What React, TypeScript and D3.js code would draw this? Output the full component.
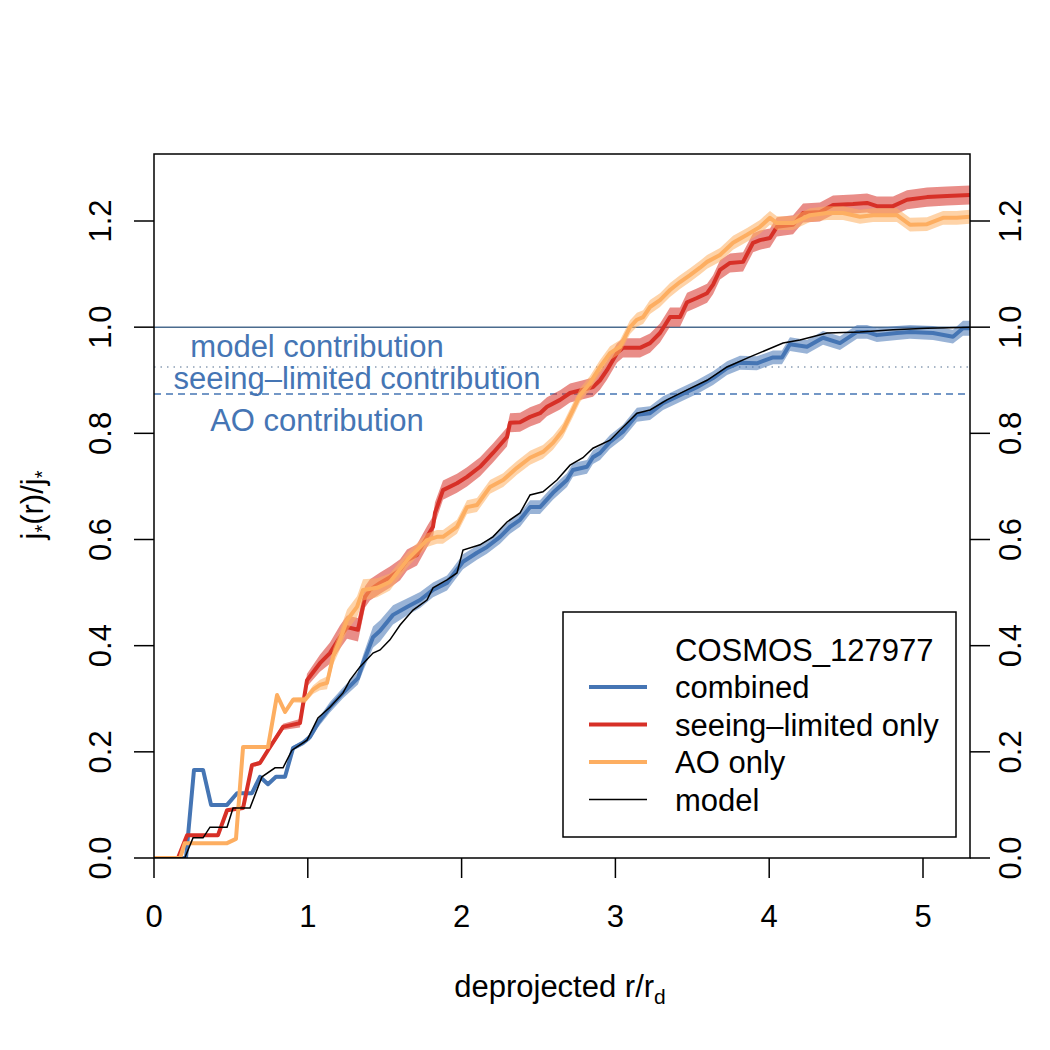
import React from "react";
import * as d3 from "d3";

type P = [number, number, number];

const X_TICKS = [0, 1, 2, 3, 4, 5];
const Y_TICKS = [0, 0.2, 0.4, 0.6, 0.8, 1.0, 1.2];
const Y_TICK_LABELS = ["0.0", "0.2", "0.4", "0.6", "0.8", "1.0", "1.2"];

const LEVEL_TOTAL = 1.0;
const LEVEL_MODEL = 0.925;
const LEVEL_AO = 0.874;

const combined: P[] = [
  [0, 0, 0], [0.208, 0, 0.001], [0.26, 0.166, 0.002], [0.319, 0.166, 0.002], [0.371, 0.1, 0.002],
  [0.475, 0.1, 0.002], [0.54, 0.122, 0.002], [0.637, 0.122, 0.002], [0.689, 0.153, 0.003],
  [0.741, 0.139, 0.003], [0.793, 0.153, 0.003], [0.852, 0.153, 0.003], [0.904, 0.207, 0.004],
  [0.969, 0.217, 0.005], [1.014, 0.228, 0.006], [1.066, 0.254, 0.008], [1.144, 0.284, 0.01],
  [1.229, 0.311, 0.01], [1.326, 0.339, 0.012], [1.359, 0.367, 0.015], [1.424, 0.416, 0.02],
  [1.47, 0.428, 0.02], [1.554, 0.458, 0.018], [1.645, 0.473, 0.016], [1.73, 0.486, 0.015],
  [1.814, 0.505, 0.014], [1.905, 0.518, 0.014], [1.944, 0.533, 0.014], [2.009, 0.558, 0.014],
  [2.1, 0.575, 0.013], [2.165, 0.586, 0.013], [2.25, 0.605, 0.013], [2.315, 0.624, 0.013],
  [2.38, 0.637, 0.013], [2.445, 0.661, 0.013], [2.51, 0.661, 0.013], [2.594, 0.688, 0.013],
  [2.685, 0.712, 0.013], [2.724, 0.731, 0.013], [2.815, 0.737, 0.013], [2.854, 0.755, 0.013],
  [2.9, 0.763, 0.013], [2.965, 0.784, 0.013], [3.049, 0.803, 0.013], [3.14, 0.835, 0.013],
  [3.225, 0.838, 0.013], [3.31, 0.857, 0.013], [3.42, 0.872, 0.013], [3.53, 0.887, 0.013],
  [3.635, 0.904, 0.013], [3.726, 0.923, 0.013], [3.81, 0.933, 0.013], [3.92, 0.932, 0.013],
  [4.025, 0.943, 0.013], [4.083, 0.943, 0.013], [4.135, 0.968, 0.013], [4.246, 0.963, 0.013],
  [4.35, 0.98, 0.013], [4.46, 0.97, 0.013], [4.571, 0.991, 0.013], [4.636, 0.991, 0.013],
  [4.7, 0.985, 0.013], [4.83, 0.989, 0.013], [4.915, 0.991, 0.013], [5.065, 0.989, 0.013],
  [5.195, 0.982, 0.013], [5.26, 0.998, 0.014], [5.306, 0.998, 0.014],
];

const seeingLimited: P[] = [
  [0, 0, 0], [0.156, 0, 0.001], [0.215, 0.043, 0.002], [0.416, 0.043, 0.002], [0.475, 0.09, 0.002],
  [0.579, 0.094, 0.003], [0.637, 0.175, 0.004], [0.689, 0.179, 0.004], [0.741, 0.203, 0.005],
  [0.839, 0.247, 0.006], [0.949, 0.254, 0.008], [0.995, 0.335, 0.012], [1.079, 0.367, 0.016],
  [1.144, 0.386, 0.02], [1.209, 0.416, 0.022], [1.255, 0.435, 0.022], [1.326, 0.43, 0.022],
  [1.372, 0.492, 0.02], [1.404, 0.505, 0.02], [1.47, 0.518, 0.02], [1.534, 0.529, 0.02],
  [1.6, 0.543, 0.02], [1.645, 0.561, 0.02], [1.71, 0.571, 0.02], [1.775, 0.605, 0.02],
  [1.814, 0.624, 0.02], [1.827, 0.65, 0.02], [1.879, 0.693, 0.018], [1.97, 0.706, 0.018],
  [2.035, 0.718, 0.018], [2.12, 0.737, 0.018], [2.204, 0.763, 0.018], [2.295, 0.793, 0.018],
  [2.315, 0.82, 0.018], [2.38, 0.821, 0.018], [2.445, 0.831, 0.018], [2.51, 0.838, 0.018],
  [2.555, 0.85, 0.018], [2.64, 0.863, 0.018], [2.705, 0.876, 0.018], [2.789, 0.882, 0.018],
  [2.854, 0.887, 0.018], [2.9, 0.9, 0.018], [2.945, 0.919, 0.018], [3.01, 0.951, 0.018],
  [3.049, 0.961, 0.018], [3.16, 0.961, 0.018], [3.225, 0.97, 0.018], [3.29, 0.989, 0.018],
  [3.355, 1.019, 0.018], [3.42, 1.019, 0.018], [3.466, 1.047, 0.018], [3.53, 1.055, 0.018],
  [3.596, 1.064, 0.018], [3.635, 1.08, 0.018], [3.68, 1.108, 0.018], [3.745, 1.121, 0.018],
  [3.83, 1.123, 0.018], [3.895, 1.159, 0.018], [3.94, 1.164, 0.018], [4.005, 1.168, 0.018],
  [4.05, 1.189, 0.018], [4.155, 1.193, 0.018], [4.22, 1.215, 0.018], [4.33, 1.217, 0.018],
  [4.415, 1.23, 0.018], [4.545, 1.232, 0.018], [4.636, 1.234, 0.018], [4.7, 1.228, 0.018],
  [4.805, 1.228, 0.018], [4.896, 1.24, 0.018], [5.026, 1.245, 0.018], [5.156, 1.247, 0.018],
  [5.306, 1.249, 0.018],
];

const aoOnly: P[] = [
  [0, 0, 0], [0.17, 0, 0.001], [0.2, 0.028, 0.002], [0.475, 0.028, 0.002], [0.533, 0.036, 0.002],
  [0.579, 0.209, 0.003], [0.741, 0.209, 0.003], [0.8, 0.307, 0.004], [0.852, 0.275, 0.004],
  [0.904, 0.298, 0.005], [0.982, 0.298, 0.006], [1.034, 0.317, 0.008], [1.079, 0.326, 0.01],
  [1.125, 0.33, 0.012], [1.164, 0.379, 0.015], [1.209, 0.411, 0.018], [1.255, 0.448, 0.02],
  [1.32, 0.473, 0.02], [1.359, 0.505, 0.02], [1.45, 0.509, 0.018], [1.534, 0.52, 0.016],
  [1.58, 0.537, 0.015], [1.645, 0.561, 0.014], [1.71, 0.58, 0.013], [1.775, 0.599, 0.013],
  [1.84, 0.605, 0.013], [1.879, 0.605, 0.013], [1.97, 0.624, 0.013], [2.035, 0.661, 0.013],
  [2.1, 0.665, 0.013], [2.185, 0.699, 0.013], [2.27, 0.712, 0.013], [2.36, 0.735, 0.013],
  [2.445, 0.754, 0.013], [2.529, 0.765, 0.013], [2.594, 0.782, 0.013], [2.659, 0.806, 0.013],
  [2.724, 0.844, 0.013], [2.77, 0.872, 0.013], [2.835, 0.895, 0.013], [2.9, 0.925, 0.013],
  [2.965, 0.951, 0.013], [3.03, 0.963, 0.013], [3.095, 1.0, 0.013], [3.14, 1.014, 0.013],
  [3.18, 1.019, 0.013], [3.225, 1.038, 0.013], [3.29, 1.051, 0.013], [3.355, 1.07, 0.013],
  [3.42, 1.085, 0.013], [3.485, 1.098, 0.013], [3.55, 1.112, 0.013], [3.596, 1.123, 0.013],
  [3.68, 1.136, 0.013], [3.765, 1.159, 0.013], [3.856, 1.174, 0.013], [3.94, 1.189, 0.013],
  [4.005, 1.206, 0.013], [4.05, 1.196, 0.013], [4.155, 1.196, 0.013], [4.265, 1.211, 0.013],
  [4.376, 1.215, 0.013], [4.48, 1.215, 0.013], [4.59, 1.208, 0.013], [4.675, 1.211, 0.013],
  [4.83, 1.211, 0.013], [4.915, 1.193, 0.013], [5.026, 1.194, 0.013], [5.13, 1.206, 0.013],
  [5.22, 1.206, 0.013], [5.306, 1.208, 0.013],
];

const model: [number, number][] = [
  [0, 0], [0.2, 0], [0.254, 0.038], [0.319, 0.038], [0.364, 0.058], [0.475, 0.058], [0.514, 0.094],
  [0.624, 0.094], [0.702, 0.153], [0.787, 0.17], [0.839, 0.17], [0.897, 0.203], [0.995, 0.222],
  [1.066, 0.264], [1.144, 0.284], [1.229, 0.311], [1.274, 0.335], [1.339, 0.36], [1.424, 0.386],
  [1.47, 0.392], [1.534, 0.411], [1.6, 0.439], [1.684, 0.467], [1.775, 0.486], [1.814, 0.509],
  [1.905, 0.524], [1.97, 0.537], [2.009, 0.58], [2.12, 0.59], [2.204, 0.605], [2.295, 0.633],
  [2.38, 0.65], [2.445, 0.684], [2.529, 0.69], [2.62, 0.712], [2.705, 0.74], [2.789, 0.754],
  [2.854, 0.772], [2.965, 0.787], [3.14, 0.838], [3.225, 0.844], [3.335, 0.863], [3.466, 0.882],
  [3.596, 0.9], [3.726, 0.925], [3.875, 0.944], [4.09, 0.97], [4.2, 0.976], [4.376, 0.989],
  [4.59, 0.991], [4.805, 0.995], [5.026, 0.998], [5.306, 1.0],
];

const LEGEND_TITLE = "COSMOS_127977";
const LEGEND_LABELS = ["combined", "seeing\u2013limited only", "AO only", "model"];

const BLUE = "#4575b4";
const RED = "#d73027";
const ORANGE = "#fdae61";
const FONT = "'Liberation Sans', Arial, Helvetica, sans-serif";
const FS = 31;

export default function App() {
  const L = 154, R = 970, T = 154, B = 858;
  const x = d3.scaleLinear().domain([0, 5]).range([154, 923]);
  const y = d3.scaleLinear().domain([0, 1.2]).range([858, 221]);

  const line = d3.line<P>().x((d) => x(d[0])).y((d) => y(d[1]));
  const band = d3
    .area<P>()
    .x((d) => x(d[0]))
    .y0((d) => y(d[1] - d[2]))
    .y1((d) => y(d[1] + d[2]));
  const mline = d3.line<[number, number]>().x((d) => x(d[0])).y((d) => y(d[1]));

  const series = [
    { data: combined, color: BLUE },
    { data: seeingLimited, color: RED },
    { data: aoOnly, color: ORANGE },
  ];

  const legendColors = [BLUE, RED, ORANGE, "#000"];
  const legendWidths = [4, 4, 4, 1.5];

  return (
    <svg
      width={1050}
      height={1050}
      style={{ position: "absolute", left: 0, top: 0, background: "#fff" }}
      fontFamily={FONT}
    >
      <defs>
        <clipPath id="plotclip">
          <rect x={L} y={T} width={R - L} height={B - T} />
        </clipPath>
      </defs>
      <rect x={0} y={0} width={1050} height={1050} fill="#fff" />

      <g clipPath="url(#plotclip)">
        <line x1={L} x2={R} y1={y(LEVEL_TOTAL)} y2={y(LEVEL_TOTAL)} stroke="#4a6b8e" strokeWidth={1.5} />
        <line x1={L} x2={R} y1={y(LEVEL_MODEL)} y2={y(LEVEL_MODEL)} stroke="#8c9fb5" strokeWidth={1.5} strokeDasharray="1.5,5" />
        <line x1={L} x2={R} y1={y(LEVEL_AO)} y2={y(LEVEL_AO)} stroke={BLUE} strokeWidth={1.5} strokeDasharray="7,5" />

        {series.map((s, i) => (
          <g key={i}>
            <path d={band(s.data) || ""} fill={s.color} fillOpacity={0.55} stroke="none" />
            <path d={line(s.data) || ""} fill="none" stroke={s.color} strokeWidth={4} strokeLinejoin="round" />
          </g>
        ))}
        <path d={mline(model) || ""} fill="none" stroke="#000" strokeWidth={1.5} />
      </g>

      <text x={317} y={357} fontSize={FS} fill={BLUE} textAnchor="middle">model contribution</text>
      <text x={357} y={389} fontSize={FS} fill={BLUE} textAnchor="middle">seeing–limited contribution</text>
      <text x={317} y={431} fontSize={FS} fill={BLUE} textAnchor="middle">AO contribution</text>

      <rect x={L} y={T} width={R - L} height={B - T} fill="none" stroke="#000" strokeWidth={1.5} />

      {X_TICKS.map((t) => (
        <g key={"x" + t}>
          <line x1={x(t)} x2={x(t)} y1={B} y2={B + 20} stroke="#000" strokeWidth={1.5} />
          <text x={x(t)} y={927} fontSize={FS} textAnchor="middle">{t}</text>
        </g>
      ))}
      {Y_TICKS.map((t, i) => (
        <g key={"y" + t}>
          <line x1={L - 20} x2={L} y1={y(t)} y2={y(t)} stroke="#000" strokeWidth={1.5} />
          <line x1={R} x2={R + 20} y1={y(t)} y2={y(t)} stroke="#000" strokeWidth={1.5} />
          <text transform={`translate(111,${y(t)}) rotate(-90)`} fontSize={FS} textAnchor="middle">{Y_TICK_LABELS[i]}</text>
          <text transform={`translate(1021,${y(t)}) rotate(-90)`} fontSize={FS} textAnchor="middle">{Y_TICK_LABELS[i]}</text>
        </g>
      ))}

      <text x={560} y={997} fontSize={FS} textAnchor="middle">
        deprojected r/r<tspan fontSize={21} dy={7}>d</tspan>
      </text>
      <text transform="translate(43,505) rotate(-90)" fontSize={FS} textAnchor="middle">
        j<tspan fontSize={20} dy={6}>*</tspan><tspan dy={-6}>(r)/j</tspan><tspan fontSize={20} dy={6}>*</tspan>
      </text>

      <rect x={563} y={612} width={393} height={225} fill="#fff" stroke="#000" strokeWidth={1.5} />
      <text x={675} y={661} fontSize={FS}>{LEGEND_TITLE}</text>
      {LEGEND_LABELS.map((lab, i) => {
        const yy = 687 + i * 37.5;
        return (
          <g key={lab}>
            <line x1={589} x2={647} y1={yy} y2={yy} stroke={legendColors[i]} strokeWidth={legendWidths[i]} />
            <text x={675} y={yy + 11} fontSize={FS}>{lab}</text>
          </g>
        );
      })}
    </svg>
  );
}
